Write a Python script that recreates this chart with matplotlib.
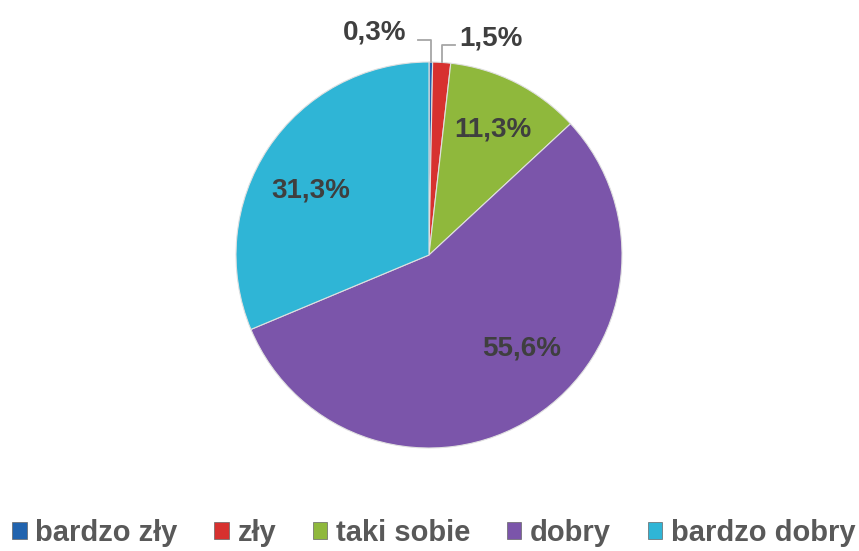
import numpy as np
import matplotlib.pyplot as plt
from matplotlib.patches import Patch

# Dane wykresu
categories = ['bardzo zły', 'zły', 'taki sobie', 'dobry', 'bardzo dobry']
values = [0.3, 1.5, 11.3, 55.6, 31.3]
colors = ['#2163AE', '#D7312F', '#8FB83C', '#7B55AA', '#2FB5D6']
labels = ['0,3%', '1,5%', '11,3%', '55,6%', '31,3%']

plt.rcParams['font.family'] = ['Liberation Sans', 'DejaVu Sans']

fig = plt.figure(figsize=(8.59, 5.51), dpi=100)
ax = fig.add_axes([0, 0, 1, 1])

cx, cy, r = 429, 551 - 255, 193
wedges, _ = ax.pie(values, colors=colors, startangle=90, counterclock=False,
                   center=(cx, cy), radius=r,
                   wedgeprops=dict(edgecolor='#e0e0e0', linewidth=0.8))
ax.set_xlim(0, 859)
ax.set_ylim(0, 551)
ax.set_aspect('equal')
ax.axis('off')

text_kw = dict(fontsize=20, fontweight='bold', color='#3f3f3f',
               ha='center', va='center')

# Etykiety duzych wycinkow wewnatrz (odleglosc, przesuniecie kata)
for w, lab, d, shift in zip(wedges[2:], labels[2:],
                            [0.73, 0.68, 0.70], [0, 12, 5]):
    ang = np.deg2rad((w.theta1 + w.theta2) / 2 + shift)
    ax.text(cx + d * r * np.cos(ang), cy + d * r * np.sin(ang), lab, **text_kw)

# Etykiety malych wycinkow z liniami odniesienia
line_kw = dict(color='#a6a6a6', linewidth=1.3)
w0 = wedges[0]
a0 = np.deg2rad((w0.theta1 + w0.theta2) / 2)
x0, y0 = cx + r * np.cos(a0), cy + r * np.sin(a0)
ax.plot([x0, x0, x0 - 13], [y0, y0 + 22, y0 + 22], **line_kw)
ax.text(x0 - 24, y0 + 30, labels[0], **dict(text_kw, ha='right'))

w1 = wedges[1]
a1 = np.deg2rad((w1.theta1 + w1.theta2) / 2)
x1, y1 = cx + r * np.cos(a1), cy + r * np.sin(a1)
ax.plot([x1, x1, x1 + 13], [y1, y1 + 17, y1 + 17], **line_kw)
ax.text(x1 + 18, y1 + 24, labels[1], **dict(text_kw, ha='left'))

handles = [Patch(facecolor=c, edgecolor='#666666', linewidth=0.5) for c in colors]
fig.legend(handles, categories, loc='center', ncol=5, frameon=False,
           bbox_to_anchor=(0.505, 0.033), handlelength=0.5, handleheight=0.5,
           handletextpad=0.3, columnspacing=1.25,
           prop=dict(size=21, weight='bold'), labelcolor='#595959')

fig.savefig('out.png', dpi=100)
